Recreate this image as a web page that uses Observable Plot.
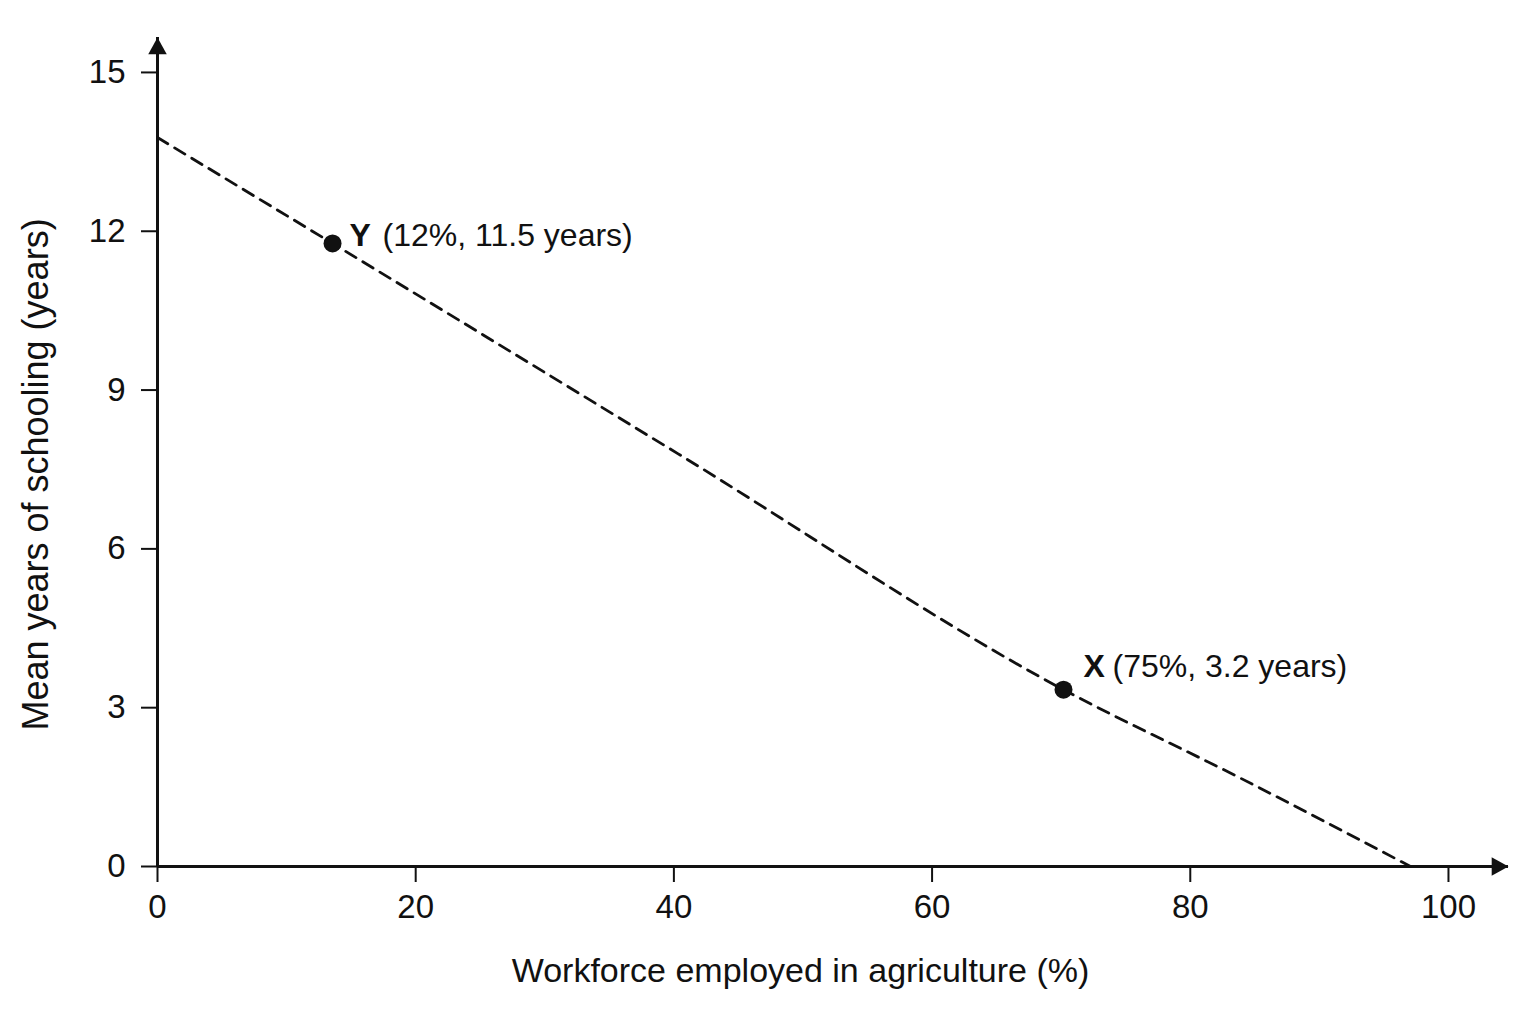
<!DOCTYPE html>
<html>
<head>
<meta charset="utf-8">
<script src="https://cdn.jsdelivr.net/npm/d3@7"></script>
<script src="https://cdn.jsdelivr.net/npm/@observablehq/plot@0.6"></script>
<style>
  html, body { margin: 0; padding: 0; background: #fff; }
  #chart svg { display: block; }
</style>
</head>
<body>
<div id="chart"></div>
<script>
// ---- data ----
const curveX = [0, 13.56, 40.3, 70.18, 83.8, 97.06];
const curveY = [13.77, 11.77, 7.8, 3.34, 1.68, 0];

const pointLetters = ["Y", "X"];
const pointX = [13.56, 70.18];
const pointY = [11.77, 3.34];
const pointLabels = ["(12%, 11.5 years)", "(75%, 3.2 years)"];

const xTicks = [0, 20, 40, 60, 80, 100];
const yTicks = [0, 3, 6, 9, 12, 15];
const xAxisMax = 104.65;
const yAxisMax = 15.66;

const xLabel = "Workforce employed in agriculture (%)";
const yLabel = "Mean years of schooling (years)";

// ---- build tables ----
const curve = curveX.map((x, i) => ({x, y: curveY[i]}));
const points = pointX.map((x, i) => ({x, y: pointY[i], letter: pointLetters[i], label: pointLabels[i]}));

// styling offsets for the annotations (pixels)
const annot = [
  {letterDx: 17, labelDx: 50, dy: -8},
  {letterDx: 20, labelDx: 49, dy: -23}
];

const ink = "#111";

// custom arrowhead symbols (tip at origin)
const arrowRight = {
  draw(ctx, size) {
    const L = Math.sqrt(size);
    ctx.moveTo(0, 0);
    ctx.lineTo(-L, -0.55 * L);
    ctx.lineTo(-L, 0.55 * L);
    ctx.closePath();
  }
};
const arrowUp = {
  draw(ctx, size) {
    const L = Math.sqrt(size);
    ctx.moveTo(0, 0);
    ctx.lineTo(-0.55 * L, L);
    ctx.lineTo(0.55 * L, L);
    ctx.closePath();
  }
};

const annotationMarks = points.flatMap((p, i) => [
  Plot.text([p], {x: "x", y: "y", text: "letter", textAnchor: "start", lineAnchor: "middle",
    dx: annot[i].letterDx, dy: annot[i].dy, fontWeight: "bold", fontSize: 32, fill: ink}),
  Plot.text([p], {x: "x", y: "y", text: "label", textAnchor: "start", lineAnchor: "middle",
    dx: annot[i].labelDx, dy: annot[i].dy, fontSize: 32, fill: ink})
]);

const chart = Plot.plot({
  width: 1536,
  height: 1024,
  marginLeft: 157,
  marginRight: 28,
  marginTop: 37,
  marginBottom: 158,
  x: {domain: [0, xAxisMax]},
  y: {domain: [0, yAxisMax]},
  style: {
    fontFamily: "'Liberation Sans', Arial, Helvetica, sans-serif",
    fontSize: "33px",
    color: ink,
    background: "#fff"
  },
  marks: [
    Plot.axisX(xTicks, {tickSize: 16, tickPadding: 12, strokeWidth: 2, label: null, fontSize: 33, fill: ink, tickFormat: d => String(d)}),
    Plot.axisY(yTicks, {tickSize: 16, tickPadding: 16, strokeWidth: 2, label: null, fontSize: 33, fill: ink, tickFormat: d => String(d)}),
    Plot.ruleY([0], {x1: 0, x2: xAxisMax, stroke: ink, strokeWidth: 3}),
    Plot.ruleX([0], {y1: 0, y2: yAxisMax, stroke: ink, strokeWidth: 3}),
    Plot.dot([{x: xAxisMax, y: 0}], {x: "x", y: "y", symbol: arrowRight, r: 9.5, fill: ink, stroke: null}),
    Plot.dot([{x: 0, y: yAxisMax}], {x: "x", y: "y", symbol: arrowUp, r: 9.5, fill: ink, stroke: null}),
    Plot.line(curve, {x: "x", y: "y", stroke: ink, strokeWidth: 2.8, strokeDasharray: "12,8", curve: "monotone-x"}),
    Plot.dot(points, {x: "x", y: "y", r: 9, fill: ink, stroke: null}),
    ...annotationMarks,
    Plot.text([xLabel], {frameAnchor: "bottom", text: d => d, dx: -32.5, dy: 105, lineAnchor: "middle",
      textAnchor: "middle", fontSize: 34, fill: ink}),
    Plot.text([yLabel], {frameAnchor: "left", text: d => d, rotate: -90, dx: -121, dy: 22.5, lineAnchor: "middle",
      textAnchor: "middle", fontSize: 36, fill: ink})
  ]
});

document.getElementById("chart").appendChild(chart);
</script>
</body>
</html>
